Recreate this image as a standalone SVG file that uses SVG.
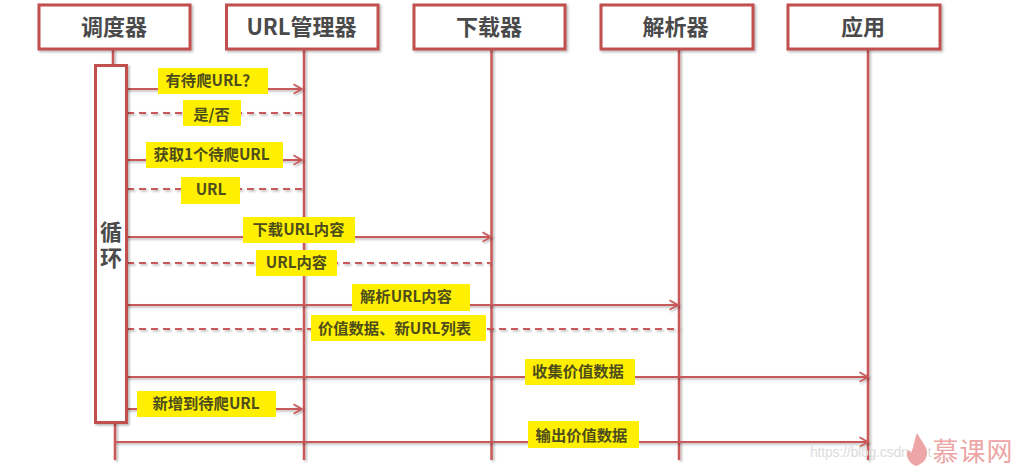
<svg xmlns="http://www.w3.org/2000/svg" width="1020" height="470" viewBox="0 0 1020 470">
<style>
text{font-family:"Noto Sans CJK SC","Liberation Sans",sans-serif;font-weight:700;text-anchor:middle}
.box{fill:#fff;stroke:#c0504d;stroke-width:3;filter:url(#sh)}
.life{stroke:#c9595a;stroke-width:2.5;fill:none;filter:url(#shl)}
.msg{stroke:#c9595a;stroke-width:1.8;fill:none;filter:url(#shl)}
.dash{stroke-dasharray:7 5}
.hd{font-size:22px;fill:#4a4a4a}
.lb{fill:#ffef00}
.lt{font-size:15.300px;fill:#4d4d1c}
</style>
<defs>
<filter id="sh" x="-20%" y="-20%" width="140%" height="140%" filterUnits="objectBoundingBox"><feDropShadow dx="1.5" dy="1.5" stdDeviation="1.2" flood-color="#000" flood-opacity=".3"/></filter>
<filter id="shl" x="-5" y="0" width="1030" height="470" filterUnits="userSpaceOnUse"><feDropShadow dx="1.5" dy="1.5" stdDeviation="1.2" flood-color="#000" flood-opacity=".3"/></filter>
<marker id="ah" markerUnits="userSpaceOnUse" markerWidth="12" markerHeight="12" refX="9.500" refY="6" orient="auto"><path d="M1 1.200L9.500 6L1 10.800" fill="none" stroke="#c9595a" stroke-width="1.600"/></marker>
</defs>
<g id="lifelines">
<path class="life" d="M113 49V66M115 423V460M304 49V460M491.500 49V460M679 49V460M868 49V460"/>
</g>
<g id="connectors">
<g class="msg">
<path marker-end="url(#ah)" d="M126 89H302"/>
<path class="dash" d="M127 113H302"/>
<path marker-end="url(#ah)" d="M126 160H302"/>
<path class="dash" d="M127 189H302"/>
<path marker-end="url(#ah)" d="M126 237H491"/>
<path class="dash" d="M127 263H490"/>
<path marker-end="url(#ah)" d="M126 305H678"/>
<path class="dash" d="M127 329H680"/>
<path marker-end="url(#ah)" d="M126 377H868"/>
<path marker-end="url(#ah)" d="M126 409H302"/>
<path marker-end="url(#ah)" d="M115 442H868"/>
</g>
</g>
<g id="node-scheduler"><rect class="box" x="39" y="5" width="151" height="44"/><text class="hd" x="114" y="35">调度器</text></g>
<g id="node-url-manager"><rect class="box" x="226.500" y="5" width="151.500" height="44"/><text class="hd" x="301.500" y="35">URL管理器</text></g>
<g id="node-downloader"><rect class="box" x="414" y="5" width="151" height="44"/><text class="hd" x="489" y="35">下载器</text></g>
<g id="node-parser"><rect class="box" x="601" y="5" width="152" height="44"/><text class="hd" x="675.500" y="35">解析器</text></g>
<g id="node-app"><rect class="box" x="788" y="5" width="152" height="44"/><text class="hd" x="863" y="35">应用</text></g>
<g id="node-loop"><rect class="box" x="95.500" y="65.500" width="31" height="357"/><text class="hd" x="111" y="247" style="writing-mode:vertical-rl;letter-spacing:4.500px">循环</text></g>
<g id="labels">
<g id="msg1"><rect class="lb" x="158" y="68" width="110" height="26"/><text class="lt" x="211.500" y="86">有待爬URL？</text></g>
<g id="msg2"><rect class="lb" x="183" y="100" width="58" height="26"/><text class="lt" x="211.500" y="120">是/否</text></g>
<g id="msg3"><rect class="lb" x="146" y="142" width="137" height="26"/><text class="lt" x="211.500" y="160">获取1个待爬URL</text></g>
<g id="msg4"><rect class="lb" x="181" y="177" width="59" height="27"/><text class="lt" x="211" y="195">URL</text></g>
<g id="msg5"><rect class="lb" x="243" y="217" width="112" height="26"/><text class="lt" x="298.500" y="235">下载URL内容</text></g>
<g id="msg6"><rect class="lb" x="256" y="250" width="81" height="26"/><text class="lt" x="296.500" y="268">URL内容</text></g>
<g id="msg7"><rect class="lb" x="352" y="284" width="118" height="27"/><text class="lt" x="406" y="302">解析URL内容</text></g>
<g id="msg8"><rect class="lb" x="311" y="315" width="175" height="26"/><text class="lt" x="394.500" y="334">价值数据、新URL列表</text></g>
<g id="msg9"><rect class="lb" x="525" y="359" width="110" height="26"/><text class="lt" x="578" y="377">收集价值数据</text></g>
<g id="msg10"><rect class="lb" x="137" y="391" width="139" height="26"/><text class="lt" x="206" y="409">新增到待爬URL</text></g>
<g id="msg11"><rect class="lb" x="528" y="421" width="111" height="27"/><text class="lt" x="581.500" y="441">输出价值数据</text></g>
</g>
<g id="watermark">
<text x="810" y="457" style="font-family:'Liberation Sans',sans-serif;font-weight:400;font-size:14px;fill:#dcdcdc;text-anchor:start;letter-spacing:-.2px">https://blog.csdn.net</text>
<path d="M917 433C921 441 927 446 927 453C927 460 922 464 916 466C910 464 907 459 907 453C908 449 910 450 911 453C914 447 914 440 917 433Z" fill="#eda5a5"/>
<text x="973" y="461" style="font-size:26px;font-weight:400;fill:#eda5a5;letter-spacing:1px">慕课网</text>
</g>
</svg>
